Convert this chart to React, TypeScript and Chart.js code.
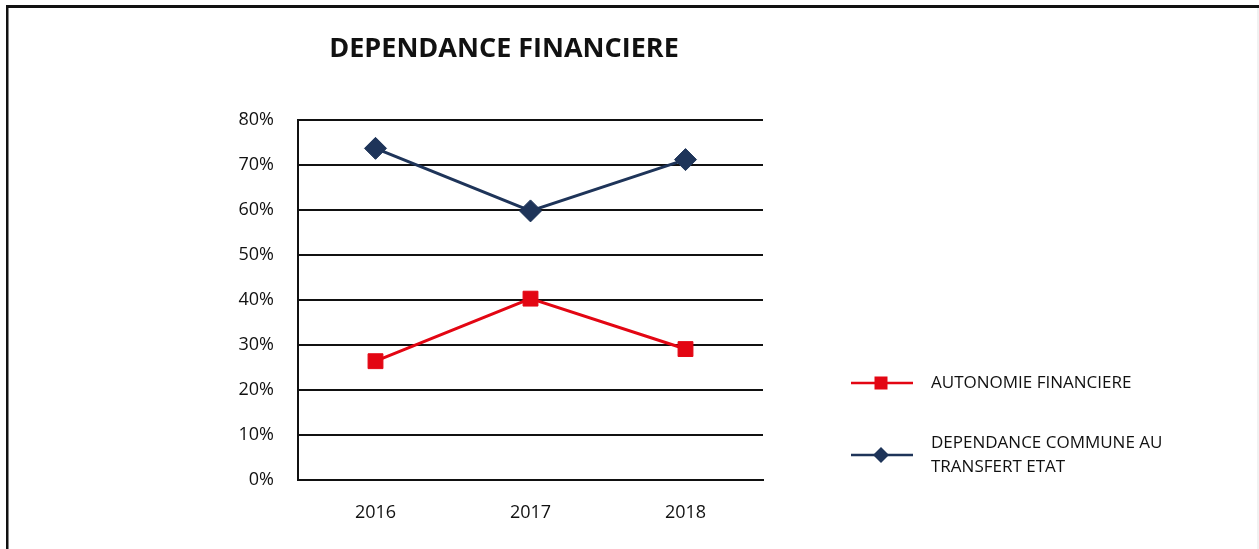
import React, { useEffect, useRef } from "react";
import { Chart, registerables } from "chart.js";

Chart.register(...registerables);

const TITLE = "DEPENDANCE FINANCIERE";
const YEARS = ["2016", "2017", "2018"];
const AUTONOMIE = [26.4, 40.3, 29.1];
const DEPENDANCE = [73.7, 59.8, 71.2];
const SERIES_NAMES = ["AUTONOMIE FINANCIERE", "DEPENDANCE COMMUNE AU TRANSFERT ETAT"];
const SERIES_COLORS = ["#E30613", "#1E3459"];
const SERIES_MARKERS = ["rect", "rectRot"];
const Y_MIN = 0;
const Y_MAX = 80;
const Y_STEP = 10;

const FONT = "'Open Sans', 'Noto Sans', sans-serif";

function wrapText(ctx: CanvasRenderingContext2D, text: string, maxW: number): string[] {
  const words = text.split(" ");
  const lines: string[] = [];
  let cur = "";
  for (const w of words) {
    const test = cur ? cur + " " + w : w;
    if (ctx.measureText(test).width > maxW && cur) {
      lines.push(cur);
      cur = w;
    } else {
      cur = test;
    }
  }
  if (cur) lines.push(cur);
  return lines;
}

const decorPlugin = {
  id: "decor",
  beforeDraw(chart: any) {
    const ctx: CanvasRenderingContext2D = chart.ctx;
    const W = chart.width;
    const H = chart.height;
    ctx.save();
    ctx.fillStyle = "#ffffff";
    ctx.fillRect(0, 0, W, H);
    // frame
    ctx.fillStyle = "#111111";
    ctx.fillRect(6, 5, W - 6, 3);
    ctx.fillRect(6, 5, 2.5, H - 5);
    ctx.fillStyle = "#e4e4e4";
    ctx.fillRect(W - 1.5, 8, 1, H - 8);
    // title
    ctx.fillStyle = "#111111";
    ctx.font = `bold 27px ${FONT}`;
    ctx.textAlign = "center";
    ctx.textBaseline = "middle";
    ctx.fillText(TITLE, 504, 49);
    ctx.restore();
  },
  afterDraw(chart: any) {
    const ctx: CanvasRenderingContext2D = chart.ctx;
    const area = chart.chartArea;
    const x0 = area.right + 88;
    const lineLen = 62;
    const textX = x0 + 80;
    const rowsY = [383, 455];
    ctx.save();
    ctx.font = `17px ${FONT}`;
    chart.data.datasets.forEach((ds: any, i: number) => {
      const y = rowsY[i];
      ctx.strokeStyle = ds.borderColor;
      ctx.lineWidth = 2.5;
      ctx.beginPath();
      ctx.moveTo(x0, y);
      ctx.lineTo(x0 + lineLen, y);
      ctx.stroke();
      const cx = x0 + lineLen / 2 - 1;
      ctx.fillStyle = ds.backgroundColor;
      if (ds.pointStyle === "rect") {
        ctx.fillRect(cx - 6.5, y - 6.5, 13, 13);
      } else {
        ctx.beginPath();
        ctx.moveTo(cx - 8, y);
        ctx.lineTo(cx, y - 8);
        ctx.lineTo(cx + 8, y);
        ctx.lineTo(cx, y + 8);
        ctx.closePath();
        ctx.fill();
      }
      ctx.fillStyle = "#111111";
      ctx.textAlign = "left";
      ctx.textBaseline = "middle";
      const lines = wrapText(ctx, ds.label, 250);
      const lh = 24;
      const startY = y - ((lines.length - 1) * lh) / 2;
      lines.forEach((ln, k) => ctx.fillText(ln, textX, startY + k * lh));
    });
    ctx.restore();
  },
};

export default function App() {
  const ref = useRef<HTMLCanvasElement | null>(null);
  useEffect(() => {
    if (!ref.current) return;
    const seriesValues = [AUTONOMIE, DEPENDANCE];
    const chart = new Chart(ref.current, {
      type: "line",
      data: {
        labels: YEARS,
        datasets: seriesValues.map((vals, i) => ({
          label: SERIES_NAMES[i],
          data: vals,
          borderColor: SERIES_COLORS[i],
          backgroundColor: SERIES_COLORS[i],
          pointBackgroundColor: SERIES_COLORS[i],
          pointBorderColor: SERIES_COLORS[i],
          pointStyle: SERIES_MARKERS[i] as any,
          pointRadius: i === 0 ? 10.5 : 11,
          pointBorderWidth: 1,
          borderWidth: 3,
          tension: 0,
          fill: false,
        })),
      },
      options: {
        animation: false,
        responsive: true,
        maintainAspectRatio: false,
        layout: { padding: { left: 0, right: 496, top: 120, bottom: 0 } },
        plugins: {
          legend: { display: false },
          title: { display: false },
          tooltip: { enabled: false },
        },
        scales: {
          x: {
            offset: true,
            grid: { display: false, drawTicks: false },
            border: { display: true, color: "#111111", width: 2 },
            ticks: {
              color: "#111111",
              font: { family: FONT, size: 18 },
              padding: 22,
            },
            afterFit: (s: any) => {
              s.height = 69;
            },
          },
          y: {
            min: Y_MIN,
            max: Y_MAX,
            ticks: {
              stepSize: Y_STEP,
              color: "#111111",
              font: { family: FONT, size: 18 },
              padding: 24,
              callback: (v: any) => `${v}%`,
            },
            grid: { color: "#111111", lineWidth: 2, drawTicks: false },
            border: { display: true, color: "#111111", width: 2 },
            afterFit: (s: any) => {
              s.width = 298;
            },
          },
        },
      },
      plugins: [decorPlugin],
    });
    return () => chart.destroy();
  }, []);
  return (
    <div style={{ position: "absolute", left: 0, top: 0, width: 1259, height: 549 }}>
      <canvas ref={ref} />
    </div>
  );
}
